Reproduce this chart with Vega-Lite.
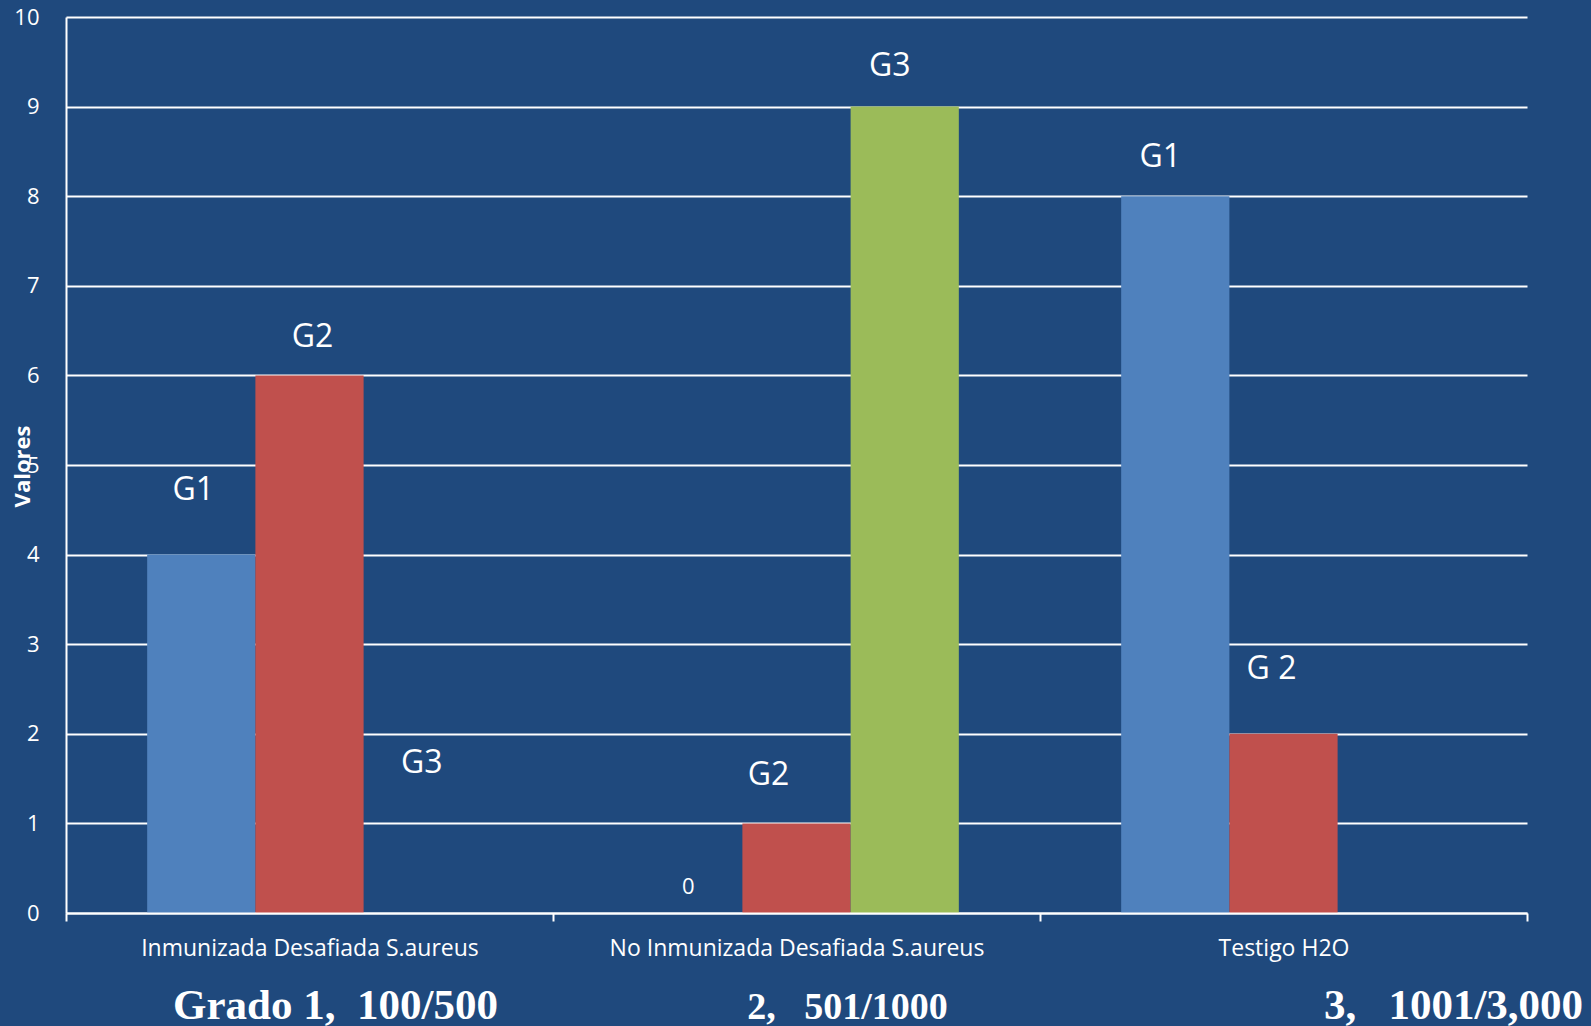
{
  "$schema": "https://vega.github.io/schema/vega-lite/v6.json",
  "width": 1461,
  "height": 896,
  "autosize": {"type": "none"},
  "padding": {"left": 66, "top": 17, "right": 64, "bottom": 113},
  "background": "#1F497D",
  "config": {"view": {"stroke": null}, "font": "Open Sans"},
  "datasets": {
    "conteos": [
      {"grupo": "Inmunizada Desafiada S.aureus", "serie": "G1", "valor": 4, "etiqueta": "G1"},
      {"grupo": "Inmunizada Desafiada S.aureus", "serie": "G2", "valor": 6, "etiqueta": "G2"},
      {"grupo": "Inmunizada Desafiada S.aureus", "serie": "G3", "valor": 0, "etiqueta": "G3"},
      {"grupo": "No Inmunizada Desafiada S.aureus", "serie": "G1", "valor": 0, "etiqueta": "0"},
      {"grupo": "No Inmunizada Desafiada S.aureus", "serie": "G2", "valor": 1, "etiqueta": "G2"},
      {"grupo": "No Inmunizada Desafiada S.aureus", "serie": "G3", "valor": 9, "etiqueta": "G3"},
      {"grupo": "Testigo H2O", "serie": "G1", "valor": 8, "etiqueta": "G1"},
      {"grupo": "Testigo H2O", "serie": "G2", "valor": 2, "etiqueta": "G 2"}
    ],
    "grados": [
      {"grupo": "Inmunizada Desafiada S.aureus", "grado": "Grado 1,\u00a0 100/500"},
      {"grupo": "No Inmunizada Desafiada S.aureus", "grado": "2,\u00a0\u00a0 501/1000"},
      {"grupo": "Testigo H2O", "grado": "3,\u00a0\u00a0 1001/3,000"}
    ]
  },
  "data": {"name": "conteos"},
  "layer": [
    {
      "mark": {"type": "bar"},
      "encoding": {
        "x": {
          "field": "grupo", "type": "nominal",
          "sort": ["Inmunizada Desafiada S.aureus", "No Inmunizada Desafiada S.aureus", "Testigo H2O"],
          "scale": {"paddingInner": 0, "paddingOuter": 0},
          "axis": {
            "title": null, "labelAngle": 0, "labelFontSize": 23, "labelColor": "white",
            "labelBaseline": "alphabetic", "labelPadding": 34, "labelLimit": 0,
            "domainColor": "white", "domainWidth": 2,
            "tickBand": "extent", "tickColor": "white", "tickWidth": 2, "tickSize": 8,
            "zindex": 1
          }
        },
        "xOffset": {
          "field": "serie", "type": "nominal",
          "scale": {"domain": ["G1", "G2", "G3"], "paddingInner": 0, "paddingOuter": 0.75}
        },
        "y": {
          "field": "valor", "type": "quantitative",
          "scale": {"domain": [0, 10], "nice": false},
          "axis": {
            "title": "Valores", "values": [0, 1, 2, 3, 4, 5, 6, 7, 8, 9, 10], "format": "d",
            "grid": true, "gridColor": "white", "gridWidth": 2,
            "domainColor": "white", "domainWidth": 2, "ticks": false,
            "labelPadding": 27, "labelFontSize": 22, "labelColor": "white",
            "titleColor": "white", "titleFontSize": 22, "titleFontWeight": "bold",
            "titleX": -44, "titleY": 449, "titleAngle": -90,
            "titleAlign": "center", "titleBaseline": "middle"
          }
        },
        "color": {
          "field": "serie", "type": "nominal",
          "scale": {"domain": ["G1", "G2", "G3"], "range": ["#4F81BD", "#C0504D", "#9BBB59"]},
          "legend": null
        }
      }
    },
    {
      "transform": [{"filter": "datum.grupo == 'Inmunizada Desafiada S.aureus' && datum.serie == 'G1'"}],
      "mark": {"type": "text", "color": "white", "fontSize": 32, "baseline": "middle", "dx": -8, "dy": -65},
      "encoding": {
        "x": {"field": "grupo", "type": "nominal"},
        "xOffset": {"field": "serie", "type": "nominal"},
        "y": {"field": "valor", "type": "quantitative"},
        "text": {"field": "etiqueta"}
      }
    },
    {
      "transform": [{"filter": "datum.grupo == 'Inmunizada Desafiada S.aureus' && datum.serie == 'G2'"}],
      "mark": {"type": "text", "color": "white", "fontSize": 32, "baseline": "middle", "dx": 3, "dy": -38},
      "encoding": {
        "x": {"field": "grupo", "type": "nominal"},
        "xOffset": {"field": "serie", "type": "nominal"},
        "y": {"field": "valor", "type": "quantitative"},
        "text": {"field": "etiqueta"}
      }
    },
    {
      "transform": [{"filter": "datum.grupo == 'Inmunizada Desafiada S.aureus' && datum.serie == 'G3'"}],
      "mark": {"type": "text", "color": "white", "fontSize": 32, "baseline": "middle", "dx": 4, "dy": -150},
      "encoding": {
        "x": {"field": "grupo", "type": "nominal"},
        "xOffset": {"field": "serie", "type": "nominal"},
        "y": {"field": "valor", "type": "quantitative"},
        "text": {"field": "etiqueta"}
      }
    },
    {
      "transform": [{"filter": "datum.grupo == 'No Inmunizada Desafiada S.aureus' && datum.serie == 'G1'"}],
      "mark": {"type": "text", "color": "white", "fontSize": 22, "baseline": "middle", "dx": 0, "dy": -26},
      "encoding": {
        "x": {"field": "grupo", "type": "nominal"},
        "xOffset": {"field": "serie", "type": "nominal"},
        "y": {"field": "valor", "type": "quantitative"},
        "text": {"field": "etiqueta"}
      }
    },
    {
      "transform": [{"filter": "datum.grupo == 'No Inmunizada Desafiada S.aureus' && datum.serie == 'G2'"}],
      "mark": {"type": "text", "color": "white", "fontSize": 32, "baseline": "middle", "dx": -28, "dy": -48},
      "encoding": {
        "x": {"field": "grupo", "type": "nominal"},
        "xOffset": {"field": "serie", "type": "nominal"},
        "y": {"field": "valor", "type": "quantitative"},
        "text": {"field": "etiqueta"}
      }
    },
    {
      "transform": [{"filter": "datum.grupo == 'No Inmunizada Desafiada S.aureus' && datum.serie == 'G3'"}],
      "mark": {"type": "text", "color": "white", "fontSize": 32, "baseline": "middle", "dx": -15, "dy": -41},
      "encoding": {
        "x": {"field": "grupo", "type": "nominal"},
        "xOffset": {"field": "serie", "type": "nominal"},
        "y": {"field": "valor", "type": "quantitative"},
        "text": {"field": "etiqueta"}
      }
    },
    {
      "transform": [{"filter": "datum.grupo == 'Testigo H2O' && datum.serie == 'G1'"}],
      "mark": {"type": "text", "color": "white", "fontSize": 32, "baseline": "middle", "dx": -15, "dy": -39},
      "encoding": {
        "x": {"field": "grupo", "type": "nominal"},
        "xOffset": {"field": "serie", "type": "nominal"},
        "y": {"field": "valor", "type": "quantitative"},
        "text": {"field": "etiqueta"}
      }
    },
    {
      "transform": [{"filter": "datum.grupo == 'Testigo H2O' && datum.serie == 'G2'"}],
      "mark": {"type": "text", "color": "white", "fontSize": 32, "baseline": "middle", "dx": -12, "dy": -65},
      "encoding": {
        "x": {"field": "grupo", "type": "nominal"},
        "xOffset": {"field": "serie", "type": "nominal"},
        "y": {"field": "valor", "type": "quantitative"},
        "text": {"field": "etiqueta"}
      }
    },
    {
      "data": {"name": "grados"},
      "transform": [{"filter": "datum.grupo == 'Inmunizada Desafiada S.aureus'"}],
      "mark": {"type": "text", "color": "white", "font": "Liberation Serif", "fontWeight": "bold", "fontSize": 43, "baseline": "alphabetic", "dx": 26, "dy": 106},
      "encoding": {
        "x": {"field": "grupo", "type": "nominal"},
        "y": {"datum": 0, "type": "quantitative"},
        "text": {"field": "grado"}
      }
    },
    {
      "data": {"name": "grados"},
      "transform": [{"filter": "datum.grupo == 'No Inmunizada Desafiada S.aureus'"}],
      "mark": {"type": "text", "color": "white", "font": "Liberation Serif", "fontWeight": "bold", "fontSize": 38, "baseline": "alphabetic", "dx": 51, "dy": 106},
      "encoding": {
        "x": {"field": "grupo", "type": "nominal"},
        "y": {"datum": 0, "type": "quantitative"},
        "text": {"field": "grado"}
      }
    },
    {
      "data": {"name": "grados"},
      "transform": [{"filter": "datum.grupo == 'Testigo H2O'"}],
      "mark": {"type": "text", "color": "white", "font": "Liberation Serif", "fontWeight": "bold", "fontSize": 43, "baseline": "alphabetic", "dx": 170, "dy": 106},
      "encoding": {
        "x": {"field": "grupo", "type": "nominal"},
        "y": {"datum": 0, "type": "quantitative"},
        "text": {"field": "grado"}
      }
    }
  ]
}
